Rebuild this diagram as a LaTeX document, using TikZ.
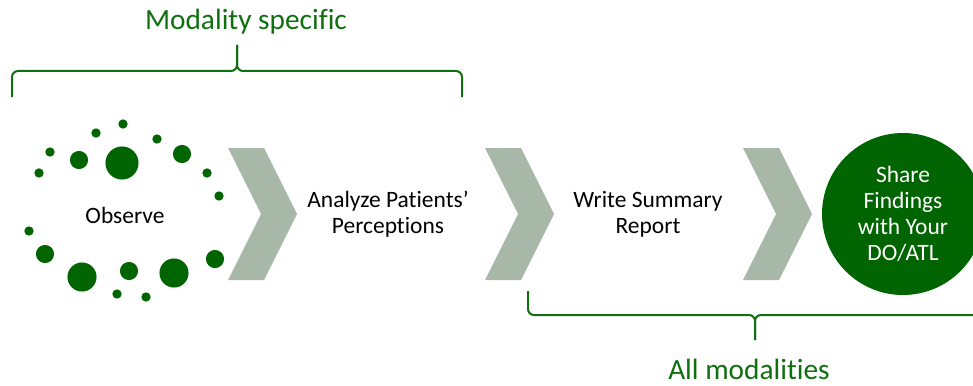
\documentclass[tikz,border=0pt]{standalone}
\usepackage{fontspec}
\setmainfont[RawFeature = {-liga;-clig;-calt;-rlig}]{Carlito}

\definecolor{leafgreen}{RGB}{0,100,0}
\definecolor{bracegreen}{RGB}{16,112,16}
\definecolor{chevrongray}{RGB}{168,184,168}

\begin{document}
\begin{tikzpicture}[x = 0.75pt, y = -0.75pt, align = center,
        steptext/.style = {font = \fontsize{17.6}{19.5}\selectfont},
        bracetext/.style = {font = \fontsize{22}{26}\selectfont, text = bracegreen},
        bracepath/.style = {draw = bracegreen, line width = 1.5pt, rounded corners = 4.5pt}]
    \clip (0, 0) rectangle (973, 385);

    % ring of dots round the first step
    \foreach \x/\y/\r in {123/124/3.5, 96/133/3.5, 157/139/3.5, 50/152/3.5,
            79/160/6.8, 122/163/12.4, 182/154/6.8, 39/173/3.5, 207/173/3.5,
            219/196/3.5, 29/231/3.5, 45/254/6.8, 215/259/6.8, 82/277/10.9,
            129/271/6.8, 174/273/10.9, 117/294/3.5, 146/297/3.5}
        \fill[leafgreen] (\x, \y) circle (\r pt);

    % chevrons between the steps
    \foreach \cx in {228, 485, 743}
        \fill[chevrongray] (\cx, 148) -- ++(36, 0) -- ++(33, 66) -- ++(-33, 66)
            -- ++(-36, 0) -- ++(33, -66) -- cycle;

    \node[steptext] (observe) at (125, 215) {Observe};
    \node[steptext] (analyze) at (388, 214) {Analyze Patients’\\Perceptions};
    \node[steptext] (summary) at (648, 214) {Write Summary\\Report};
    \node[steptext, circle, fill = leafgreen, text = white, inner sep = 0pt,
        minimum size = 121.5pt] (share) at (903, 214) {Share\\Findings\\with Your\\DO/ATL};

    % braces
    \draw[bracepath] (12, 97) -- (12, 71) -- (237, 71) -- (237, 45);
    \draw[bracepath] (237, 45) -- (237, 71) -- (462, 71) -- (462, 97);
    \node[bracetext] (specific) at (246, 22) {Modality specific};

    \draw[bracepath] (528, 291) -- (528, 315) -- (755, 315) -- (755, 340);
    \draw[bracepath] (755, 340) -- (755, 315) -- (982, 315) -- (982, 291);
    \node[bracetext] (allmod) at (749, 369) {All modalities};
\end{tikzpicture}
\end{document}
